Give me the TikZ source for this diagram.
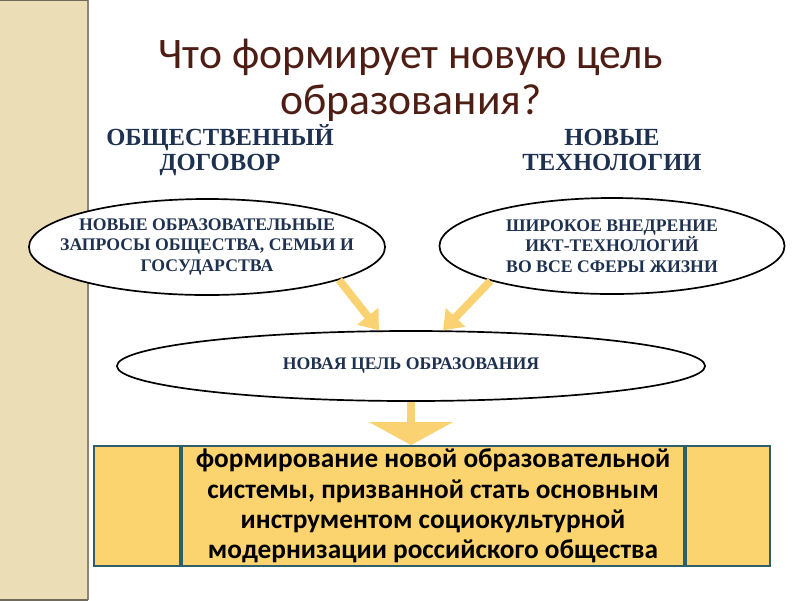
\documentclass[tikz,border=0pt]{standalone}
\usepackage{fontspec}
\setmainfont{Liberation Serif}
\newfontfamily\calibri{Carlito}
\usetikzlibrary{positioning,shapes.geometric,arrows.meta}
\definecolor{stripTan}{HTML}{EBDDB6}
\definecolor{stripEdge}{HTML}{8C8474}
\definecolor{titleBrown}{HTML}{4E1D14}
\definecolor{capsNavy}{HTML}{1E3150}
\definecolor{arrowGold}{HTML}{FAD272}
\definecolor{cellGold}{HTML}{FBD36F}
\definecolor{cellEdge}{HTML}{2F5E6B}
\tikzset{
  heading/.style={font=\bfseries\fontsize{17.5}{18}\selectfont, text=capsNavy, align=center},
  oval/.style={draw, ellipse, line width=1.2pt, fill=white, inner xsep=-0.6cm, inner ysep=-0.25cm,
    align=center, text=capsNavy, font=\bfseries\fontsize{12.6}{14.5}\selectfont},
  fatarrow/.style={draw=arrowGold, line width=5.5pt, -{Triangle[width=0.65cm,length=0.45cm]}},
  cell/.style={draw=cellEdge, fill=cellGold, line width=1.3pt, minimum height=3cm, inner sep=0pt}
}
\begin{document}
\begin{tikzpicture}[x=0.025cm, y=-0.025cm]
\useasboundingbox (0,0) rectangle (800,600);
\fill[white] (0,0) rectangle (800,600);
% side strip
\fill[stripTan] (0,0) rectangle (88,600);
\draw[stripEdge, line width=0.8pt] (88,0) -- (88,600);
\draw[stripEdge!80!black, line width=1.5pt] (0,0) -- (88,0) (0,600) -- (88,600);
% title
\node[font=\calibri\fontsize{31}{33}\selectfont, text=titleBrown, align=center] (title) at (411,80)
  {Что формирует новую цель\\образования?};
% two sources
\node[heading] (contract) at (220,150) {ОБЩЕСТВЕННЫЙ\\ДОГОВОР};
\node[heading] (tech) at (612,150) {НОВЫЕ\\ТЕХНОЛОГИИ};
\node[oval, minimum width=8.9cm, minimum height=2.4cm] (req) at (207,247)
  {НОВЫЕ ОБРАЗОВАТЕЛЬНЫЕ\\ЗАПРОСЫ ОБЩЕСТВА, СЕМЬИ И\\ГОСУДАРСТВА};
\node[oval, minimum width=8.625cm, minimum height=2.4cm] (ict) at (612,246)
  {ШИРОКОЕ ВНЕДРЕНИЕ\\ИКТ-ТЕХНОЛОГИЙ\\ВО ВСЕ СФЕРЫ ЖИЗНИ};
\node[oval, minimum width=14.7cm, minimum height=1.75cm] (goal) at (411,366)
  {НОВАЯ ЦЕЛЬ ОБРАЗОВАНИЯ};
\draw[fatarrow] (req.-14) -- (goal.132);
\draw[fatarrow] (ict.196) -- (goal.48);
% result table
\node[cell, minimum width=12.55cm, align=center, text=black,
  font=\calibri\bfseries\fontsize{19.4}{21.6}\selectfont] (result) at (433,506)
  {формирование новой образовательной\\системы, призванной стать основным\\инструментом социокультурной\\модернизации российского общества};
\node[cell, minimum width=2.15cm, left=0pt of result] (leftcell) {};
\node[cell, minimum width=2.1cm, right=0pt of result] (rightcell) {};
\draw[draw=arrowGold, line width=6pt, -{Triangle[width=2.075cm,length=0.575cm]}]
  (goal.south) -- (goal.south |- result.north);
\end{tikzpicture}
\end{document}
